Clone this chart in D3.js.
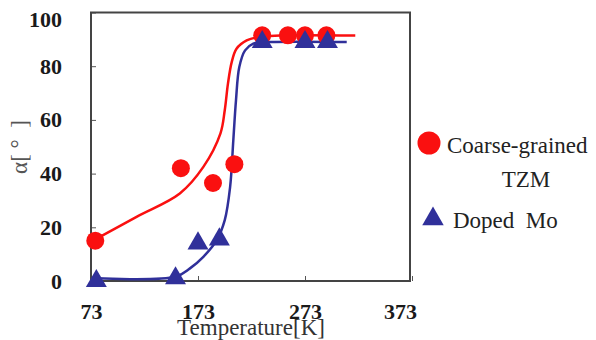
<!DOCTYPE html>
<html>
<head>
<meta charset="utf-8">
<script src="https://cdn.jsdelivr.net/npm/d3@7"></script>
<style>
  body { margin: 0; background: #fff; }
</style>
</head>
<body>
<div id="chart"></div>
<script>
// measured points
var tzmTemp = [77, 157, 187, 207, 233, 257, 273, 293];
var tzmAngle = [15, 42, 36.5, 43.5, 91.5, 91.5, 91.5, 91.5];
var moTemp = [78, 152, 173, 193, 233, 273, 294];
var moAngle = [0, 1, 14, 15.5, 89, 89, 89];

// fitted curves
var tzmFitTemp = [77, 116, 156, 178, 194, 198, 201, 204.5, 209, 218.5, 231, 250, 320];
var tzmFitAngle = [15.5, 24, 32.6, 42.5, 55, 63.6, 73.5, 81.5, 86.5, 89.6, 91, 91.4, 91.4];
var moFitTemp = [78, 152, 165.5, 178, 190.5, 198, 203, 206, 208.5, 211.6, 217, 224.7, 240, 312];
var moFitAngle = [1, 1.6, 4.7, 9, 15.2, 22.7, 35, 52.4, 67.3, 79.7, 85.9, 88.4, 89, 89];

var xTicks = [73, 173, 273, 373];
var yTicks = [0, 20, 40, 60, 80, 100];
var legendNames = ["Coarse-grained", "TZM", "Doped  Mo"];

var red = "#fa1010";
var blue = "#30309a";
var serif = "'Liberation Serif', 'Times New Roman', Tinos, 'Nimbus Roman', 'DejaVu Serif', serif";

var svg = d3.select("#chart").append("svg").attr("width", 596).attr("height", 340);

var x = d3.scaleLinear().domain([73, 373]).range([91, 412]);
var y = d3.scaleLinear().domain([0, 100]).range([281, 12.5]);

// axes
var xAxis = svg.append("g")
  .attr("transform", "translate(0,281)")
  .call(d3.axisBottom(x).tickValues(xTicks).tickSize(-5).tickPadding(22).tickSizeOuter(0));
var yAxis = svg.append("g")
  .attr("transform", "translate(91,0)")
  .call(d3.axisLeft(y).tickValues(yTicks).tickSize(-5).tickPadding(29).tickSizeOuter(0));

[xAxis, yAxis].forEach(function(g) {
  g.attr("font-family", null);
  g.select(".domain").remove();
  g.selectAll("line").attr("stroke", "#555").attr("stroke-width", 1);
  g.selectAll("text")
    .style("font-family", serif)
    .style("font-size", "22px")
    .style("font-weight", "bold")
    .attr("fill", "#1a1a1a");
});
xAxis.selectAll(".tick").filter(function(d) { return d === 373; })
  .select("text").attr("dx", -12);
yAxis.selectAll(".tick").filter(function(d) { return d === 100; })
  .select("text").attr("dy", "0.62em");

// frame
svg.append("rect")
  .attr("x", x(73)).attr("y", y(100))
  .attr("width", 410 - x(73)).attr("height", y(0) - y(100))
  .attr("fill", "none").attr("stroke", "#444").attr("stroke-width", 2);

// fitted lines
var line = d3.line()
  .x(function(d) { return x(d[0]); })
  .y(function(d) { return y(d[1]); })
  .curve(d3.curveCatmullRom.alpha(0.5));

svg.append("path")
  .datum(d3.zip(tzmFitTemp, tzmFitAngle))
  .attr("d", line).attr("fill", "none").attr("stroke", red).attr("stroke-width", 2.5);
svg.append("path")
  .datum(d3.zip(moFitTemp, moFitAngle))
  .attr("d", line).attr("fill", "none").attr("stroke", blue).attr("stroke-width", 2.5);

// markers
svg.selectAll(".tzm")
  .data(d3.zip(tzmTemp, tzmAngle))
  .enter().append("circle")
  .attr("class", "tzm")
  .attr("cx", function(d) { return x(d[0]); })
  .attr("cy", function(d) { return y(d[1]); })
  .attr("r", 9)
  .attr("fill", red);

var tri = d3.symbol().type(d3.symbolTriangle).size(190);
svg.selectAll(".mo")
  .data(d3.zip(moTemp, moAngle))
  .enter().append("path")
  .attr("class", "mo")
  .attr("transform", function(d) { return "translate(" + x(d[0]) + "," + y(d[1]) + ")"; })
  .attr("d", tri)
  .attr("fill", blue);

// axis titles
svg.append("text")
  .attr("x", 251).attr("y", 335)
  .attr("text-anchor", "middle")
  .style("font-family", serif).style("font-size", "23px")
  .attr("fill", "#333")
  .text("Temperature[K]");

svg.append("text")
  .attr("transform", "translate(27,147) rotate(-90)")
  .attr("text-anchor", "middle")
  .style("font-family", serif).style("font-size", "23px")
  .attr("fill", "#555")
  .style("white-space", "pre")
  .text("α[ °  ]");

// legend
svg.append("circle").attr("cx", 429).attr("cy", 143).attr("r", 11.5).attr("fill", red);
svg.append("text").attr("x", 447).attr("y", 153)
  .style("font-family", serif).style("font-size", "23px").attr("fill", "#222")
  .text(legendNames[0]);
svg.append("text").attr("x", 526).attr("y", 187).attr("text-anchor", "middle")
  .style("font-family", serif).style("font-size", "23px").attr("fill", "#222")
  .text(legendNames[1]);
svg.append("path")
  .attr("transform", "translate(433,219)")
  .attr("d", d3.symbol().type(d3.symbolTriangle).size(200))
  .attr("fill", blue);
svg.append("text").attr("x", 453).attr("y", 228)
  .style("font-family", serif).style("font-size", "23px").attr("fill", "#222")
  .style("white-space", "pre")
  .text(legendNames[2]);
</script>
</body>
</html>
